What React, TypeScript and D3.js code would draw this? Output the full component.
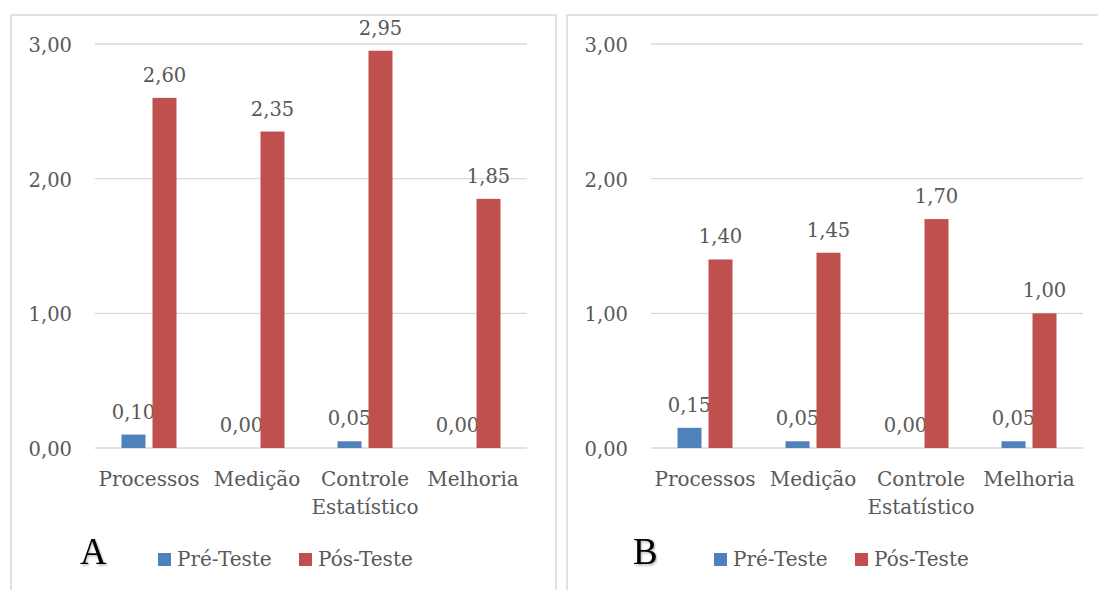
import React from "react";
import * as d3 from "d3";

const categories: string[][] = [["Processos"], ["Medição"], ["Controle", "Estatístico"], ["Melhoria"]];
const seriesNames = ["Pré-Teste", "Pós-Teste"];
const seriesColors = ["#4F81BD", "#C0504D"];
const panelLetters = ["A", "B"];
const preA = [0.1, 0.0, 0.05, 0.0];
const posA = [2.6, 2.35, 2.95, 1.85];
const preB = [0.15, 0.05, 0.0, 0.05];
const posB = [1.4, 1.45, 1.7, 1.0];
const yTicks = [0, 1, 2, 3];

const panels = [
  { letter: panelLetters[0], values: [preA, posA], x0: 11, letterX: 80 },
  { letter: panelLetters[1], values: [preB, posB], x0: 567, letterX: 633 },
];

const locale = d3.formatLocale({ decimal: ",", thousands: ".", grouping: [3], currency: ["", ""] });
const fmt = locale.format(".2f");

const TEXT = "#595959";
const GRID = "#D9D9D9";
const FONT = "'DejaVu Serif', serif";

function Panel({ p }: { p: (typeof panels)[number] }) {
  const left = p.x0 + 84;
  const right = left + 432;
  const y = d3.scaleLinear().domain([0, 3]).range([448, 44]);
  const x = d3.scaleBand<number>().domain(d3.range(categories.length)).range([left, right]).padding(0);
  const bw = x.bandwidth();
  const inner = d3
    .scaleBand<number>()
    .domain([0, 1])
    .range([bw / 2 - 27.5, bw / 2 + 27.5])
    .paddingInner(7 / 31)
    .paddingOuter(0);
  return (
    <g>
      <path
        d={`M${p.x0},${600} V${15} H${p.x0 + 545} V${600}`}
        fill="none"
        stroke={GRID}
        strokeWidth={1.5}
      />
      {yTicks.map((t) => (
        <g key={t}>
          <line x1={left} x2={right} y1={y(t)} y2={y(t)} stroke={GRID} strokeWidth={1.3} />
          <text
            x={left - 23}
            y={y(t) + 8}
            textAnchor="end"
            fontSize={19.5}
            fill={TEXT}
            fontFamily={FONT}
          >
            {fmt(t)}
          </text>
        </g>
      ))}
      {categories.map((cat, i) => (
        <g key={i}>
          {p.values.map((vals, s) => {
            const v = vals[i];
            const bx = (x(i) as number) + (inner(s) as number);
            return (
              <g key={s}>
                {v > 0 && (
                  <rect x={bx} y={y(v)} width={inner.bandwidth()} height={y(0) - y(v)} fill={seriesColors[s]} />
                )}
                <text
                  x={bx + inner.bandwidth() / 2}
                  y={y(v) - 16}
                  textAnchor="middle"
                  fontSize={19.5}
                  fill={TEXT}
                  fontFamily={FONT}
                >
                  {fmt(v)}
                </text>
              </g>
            );
          })}
          {cat.map((line, li) => (
            <text
              key={li}
              x={(x(i) as number) + bw / 2}
              y={486 + li * 28}
              textAnchor="middle"
              fontSize={20}
              fill={TEXT}
              fontFamily={FONT}
            >
              {line}
            </text>
          ))}
        </g>
      ))}
      <text
        x={p.letterX}
        y={564}
        fontSize={37}
        fontFamily="'Liberation Serif', serif"
        fill="#000"
        filter="url(#shadow)"
      >
        {p.letter}
      </text>
      {seriesNames.map((name, s) => {
        const sx = p.x0 + 147 + s * 141;
        return (
          <g key={name}>
            <rect x={sx} y={553} width={13} height={13} fill={seriesColors[s]} />
            <text x={sx + 19} y={566} fontSize={20} fill={TEXT} fontFamily={FONT}>
              {name}
            </text>
          </g>
        );
      })}
    </g>
  );
}

export default function App() {
  return (
    <svg
      width={1098}
      height={590}
      viewBox="0 0 1098 590"
      style={{ position: "absolute", left: 0, top: 0, background: "#fff" }}
    >
      <defs>
        <filter id="shadow" x="-20%" y="-20%" width="150%" height="150%">
          <feDropShadow dx="1" dy="1.5" stdDeviation="1" floodColor="#000" floodOpacity="0.3" />
        </filter>
      </defs>
      <rect width={1098} height={590} fill="#fff" />
      {panels.map((p) => (
        <Panel key={p.letter} p={p} />
      ))}
    </svg>
  );
}
